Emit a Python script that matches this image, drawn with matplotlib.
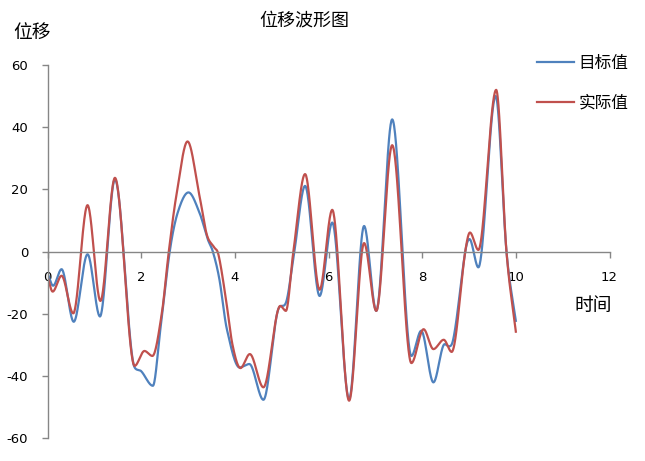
import numpy as np
import matplotlib
matplotlib.use("Agg")
import matplotlib.pyplot as plt

plt.rcParams["font.family"] = ["DejaVu Sans", "Noto Sans CJK SC"]
plt.rcParams["axes.unicode_minus"] = False

# ── data (key points of each smoothed curve) ──────────────────────────────
target_t = [0.00, 0.12, 0.30, 0.56, 0.855, 1.12, 1.44, 1.86, 2.00, 2.25,
            2.41, 2.61, 2.78, 3.01, 3.245, 3.42, 3.53, 3.67, 3.83, 4.10,
            4.31, 4.61, 4.93, 5.09, 5.27, 5.50, 5.81, 6.08, 6.44, 6.76,
            7.02, 7.36, 7.77, 7.98, 8.24, 8.48, 8.57, 8.66, 8.92, 9.01,
            9.20, 9.57, 9.80, 10.0]
target_v = [-7.0, -11.0, -5.7, -22.6, -0.9, -20.9, 23.2, -37.3, -38.5, -43.2,
            -25.0, 0.0, 12.5, 19.0, 12.5, 4.0, 0.0, -8.9, -25.0, -37.3,
            -36.2, -47.7, -18.5, -16.5, 0.0, 21.1, -14.3, 9.3, -47.5, 8.2,
            -19.1, 42.5, -33.6, -25.5, -42.1, -29.8, -30.5, -28.5, 0.0, 4.0,
            -5.1, 50.0, 0.0, -22.3]

actual_t = [0.00, 0.11, 0.30, 0.55, 0.855, 1.13, 1.44, 1.86, 2.07, 2.24,
            2.44, 2.59, 2.75, 2.99, 3.245, 3.40, 3.55, 3.65, 3.80, 3.95,
            4.12, 4.32, 4.61, 4.97, 5.09, 5.25, 5.50, 5.81, 6.08, 6.44,
            6.76, 7.02, 7.36, 7.77, 8.03, 8.24, 8.46, 8.63, 8.92, 9.02,
            9.20, 9.58, 9.80, 10.0]
actual_v = [-8.0, -12.9, -7.8, -19.9, 14.9, -15.9, 23.7, -36.8, -32.0, -33.6,
            -20.0, 0.0, 17.9, 35.4, 17.9, 5.5, 1.5, -1.0, -14.3, -30.0,
            -37.5, -33.0, -43.7, -17.5, -19.1, 0.0, 24.9, -12.3, 13.4, -48.0,
            2.7, -19.1, 34.2, -35.9, -25.0, -31.4, -28.4, -32.3, 0.0, 6.1,
            0.5, 52.0, 0.0, -25.8]

series_names = ["目标值", "实际值"]
x_ticks = [0, 2, 4, 6, 8, 10, 12]
y_ticks = [-60, -40, -20, 0, 20, 40, 60]
# ───────────────────────────────────────────────────────────────────────────


def smooth(x, y, n=40):
    """Cubic Hermite through the points: flat at turning points, centred
    slope elsewhere -- close to Excel's smoothed line."""
    x = np.asarray(x, float)
    y = np.asarray(y, float)
    h = np.diff(x)
    delta = np.diff(y) / h
    d = np.zeros_like(y)
    for k in range(1, len(x) - 1):
        if delta[k - 1] * delta[k] > 0:
            c = (y[k + 1] - y[k - 1]) / (x[k + 1] - x[k - 1])
            lim = 3 * min(abs(delta[k - 1]), abs(delta[k]))
            d[k] = np.sign(c) * min(abs(c), lim)
    d[0] = delta[0]
    d[-1] = delta[-1]
    xs, ys = [], []
    for k in range(len(h)):
        t = np.linspace(0, 1, n, endpoint=False)
        h00 = 2 * t**3 - 3 * t**2 + 1
        h10 = t**3 - 2 * t**2 + t
        h01 = -2 * t**3 + 3 * t**2
        h11 = t**3 - t**2
        xs.append(x[k] + t * h[k])
        ys.append(h00 * y[k] + h10 * h[k] * d[k] + h01 * y[k + 1] + h11 * h[k] * d[k + 1])
    xs.append([x[-1]])
    ys.append([y[-1]])
    return np.concatenate(xs), np.concatenate(ys)


fig = plt.figure(figsize=(6.45, 4.61), dpi=100)
ax = fig.add_axes([47.5 / 645, 1 - 438 / 461, 562 / 645, 373 / 461])

gray = "#868686"
bx, by = smooth(target_t, target_v)
rx, ry = smooth(actual_t, actual_v)
ax.plot(bx, by, color="#4F81BD", lw=1.6, label=series_names[0])
ax.plot(rx, ry, color="#C0504D", lw=1.6, label=series_names[1])

ax.set_xlim(0, 12)
ax.set_ylim(-60, 60)
ax.set_xticks(x_ticks)
ax.set_yticks(y_ticks)
ax.spines["top"].set_visible(False)
ax.spines["right"].set_visible(False)
ax.spines["bottom"].set_position(("data", 0))
for s in ("left", "bottom"):
    ax.spines[s].set_color(gray)
    ax.spines[s].set_linewidth(1.0)
ax.tick_params(axis="both", colors=gray, labelcolor="#000000",
               length=4, width=1.0, labelsize=9.5, direction="out", pad=10)

fig.text(304.5 / 645, 1 - 21 / 461, "位移波形图", ha="center", va="center", fontsize=13)
fig.text(13 / 645, 1 - 32 / 461, "位移", ha="left", va="center", fontsize=13.5)
fig.text(593 / 645, 1 - 305 / 461, "时间", ha="center", va="center", fontsize=13.5)

ax.legend(loc="upper left", bbox_to_anchor=(537 / 645, 1 - 54 / 461),
          bbox_transform=fig.transFigure, frameon=False, fontsize=12,
          handlelength=2.2, handletextpad=0.3, labelspacing=1.3,
          borderpad=0, borderaxespad=0)

fig.savefig("out.png", dpi=100)
